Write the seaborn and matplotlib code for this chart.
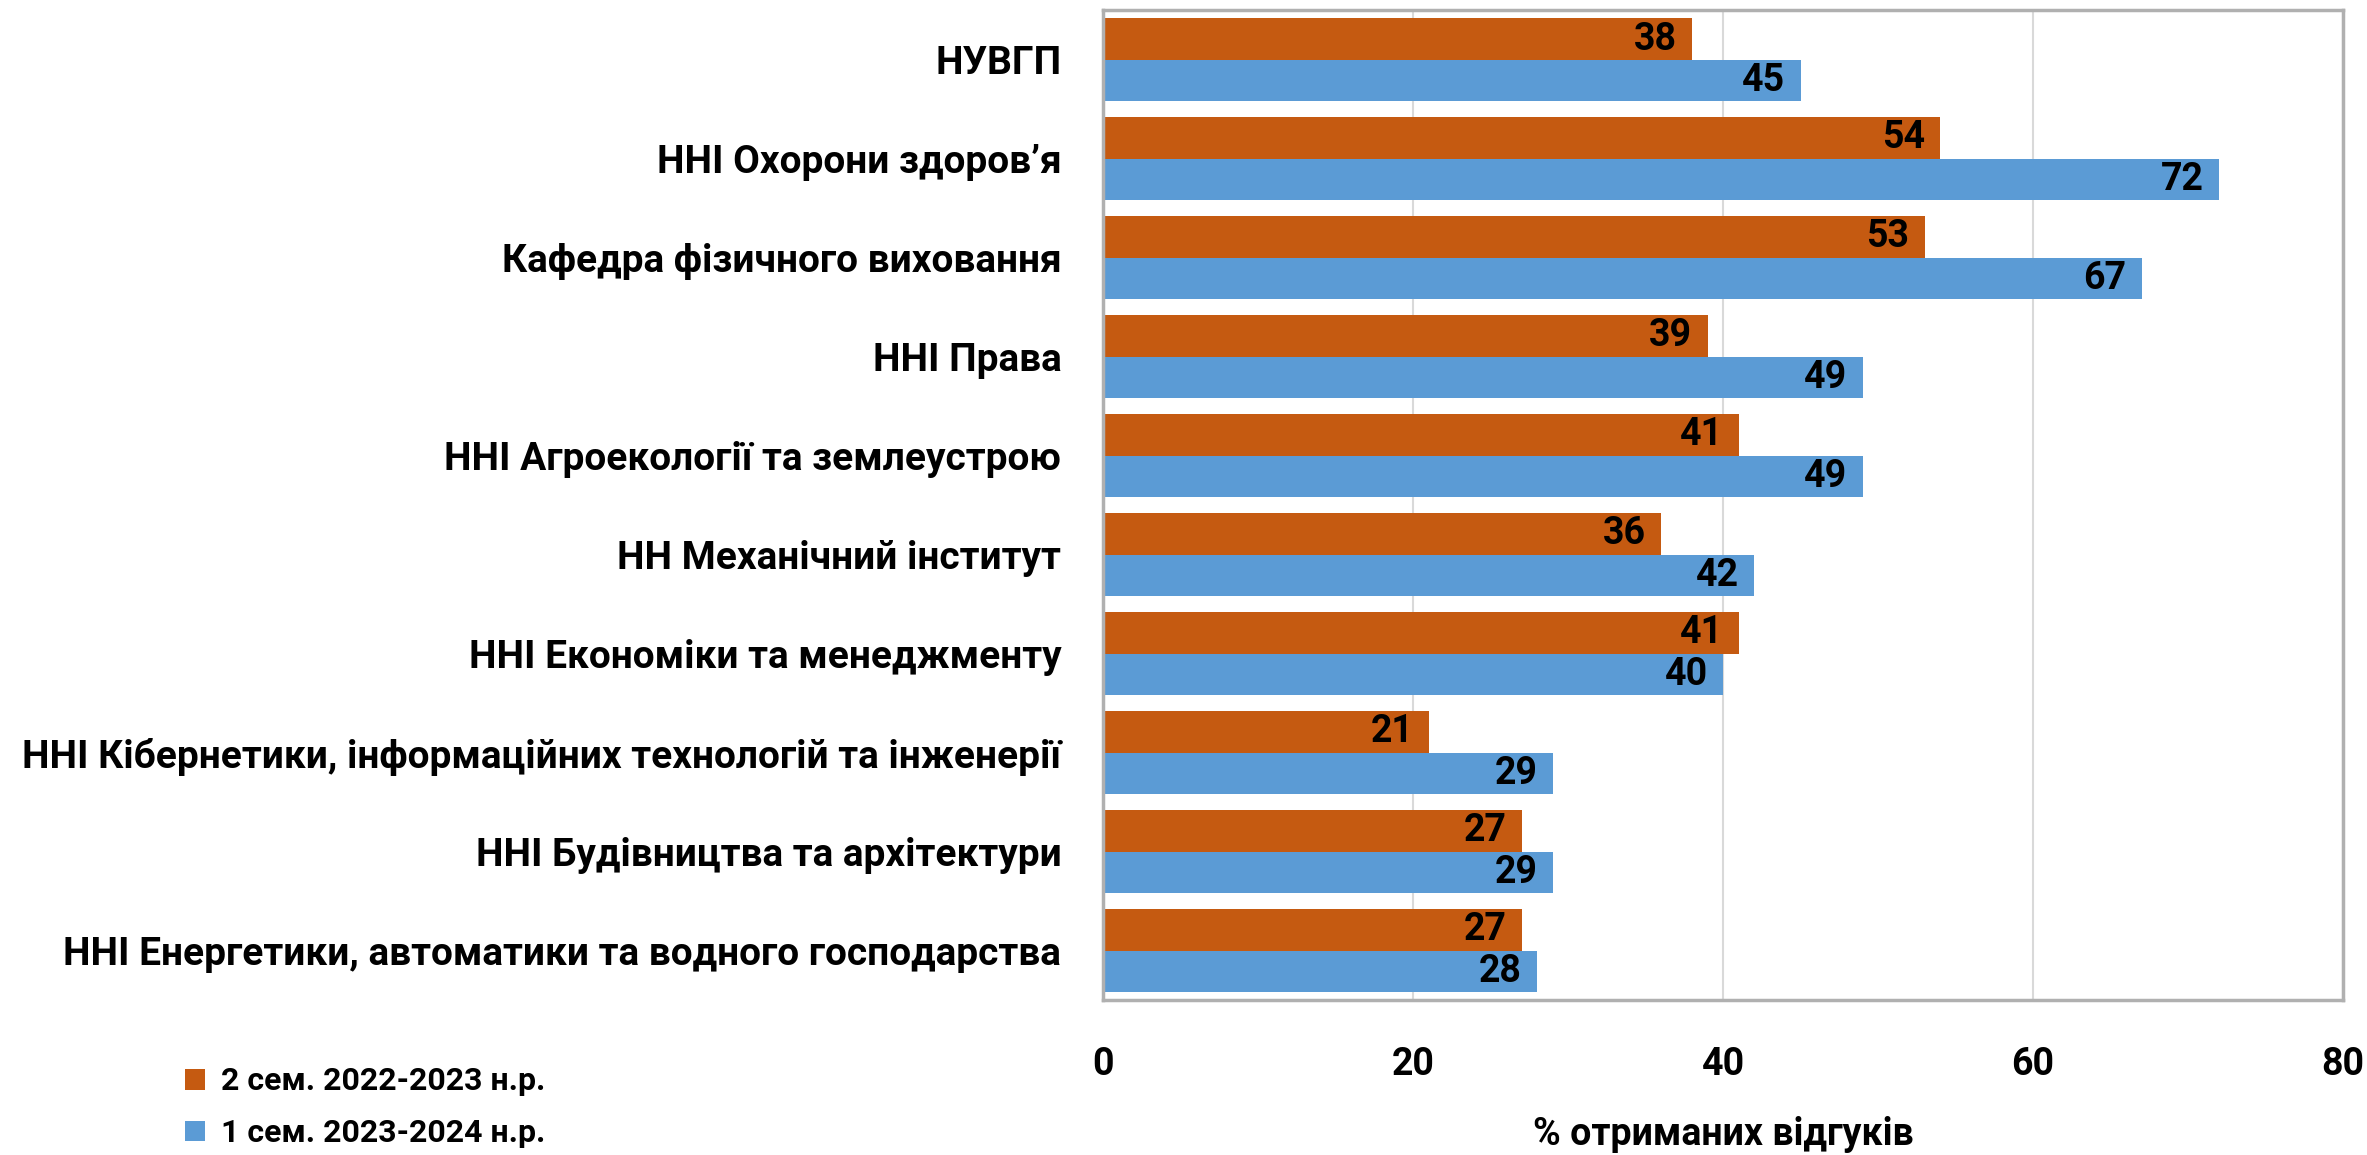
import matplotlib
matplotlib.use("Agg")
import matplotlib.pyplot as plt
from matplotlib.patches import Patch
import seaborn as sns
import pandas as pd

# data
categories = [
    "НУВГП",
    "ННІ Охорони здоров’я",
    "Кафедра фізичного виховання",
    "ННІ Права",
    "ННІ Агроекології та землеустрою",
    "НН Механічний інститут",
    "ННІ Економіки та менеджменту",
    "ННІ Кібернетики, інформаційних технологій та інженерії",
    "ННІ Будівництва та архітектури",
    "ННІ Енергетики, автоматики та водного господарства",
]
series_names = ["2 сем. 2022-2023 н.р.", "1 сем. 2023-2024 н.р."]
sem2_2022 = [38, 54, 53, 39, 41, 36, 41, 21, 27, 27]
sem1_2023 = [45, 72, 67, 49, 49, 42, 40, 29, 29, 28]
x_ticks = [0, 20, 40, 60, 80]

colors = ["#C55A11", "#5B9BD5"]

sns.set_theme(style="white")
plt.rcParams["font.family"] = ["Roboto", "DejaVu Sans"]
plt.rcParams["font.weight"] = "bold"
for key in ["text.color", "axes.labelcolor", "xtick.color", "ytick.color"]:
    plt.rcParams[key] = "black"

df = pd.DataFrame({
    "category": categories * 2,
    "value": sem2_2022 + sem1_2023,
    "series": [series_names[0]] * len(categories) + [series_names[1]] * len(categories),
})

fig = plt.figure(figsize=(23.67, 11.55), dpi=100)
ax = fig.add_axes([0.466, 0.1342, 0.5239, 0.8571])

sns.barplot(data=df, y="category", x="value", hue="series", orient="h",
            palette=colors, saturation=1, width=0.83, linewidth=0, ax=ax)

FS = 27
for cont in ax.containers:
    texts = ax.bar_label(cont, fmt="%d", padding=-11, fontsize=FS, fontweight="bold", color="black")
    for t in texts:
        t.set_ha("right")

ax.set_xlim(0, 80)
ax.set_xticks(x_ticks)
ax.set_xticklabels([str(v) for v in x_ticks])
ax.tick_params(axis="x", length=0, pad=33, labelsize=FS)
ax.tick_params(axis="y", length=0, pad=30, labelsize=28)
for lab in ax.get_xticklabels() + ax.get_yticklabels():
    lab.set_fontweight("bold")

ax.set_ylabel("")
ax.set_xlabel("% отриманих відгуків", fontsize=FS, fontweight="bold", labelpad=24)

ax.grid(axis="x", color="#d9d9d9", linewidth=1.5)
ax.set_axisbelow(True)
for sp in ax.spines.values():
    sp.set_visible(True)
    sp.set_color("#b0b0b0")
    sp.set_linewidth(2.5)

leg = ax.get_legend()
if leg is not None:
    leg.remove()
handles = [Patch(facecolor=c, edgecolor="none") for c in colors]
fig.legend(handles, series_names, loc="lower left", bbox_to_anchor=(0.066, -0.019),
           frameon=False, prop={"weight": "bold", "size": 23},
           handlelength=0.62, handleheight=0.62, handletextpad=0.5, labelspacing=0.68)

fig.savefig("out.png", dpi=100)
